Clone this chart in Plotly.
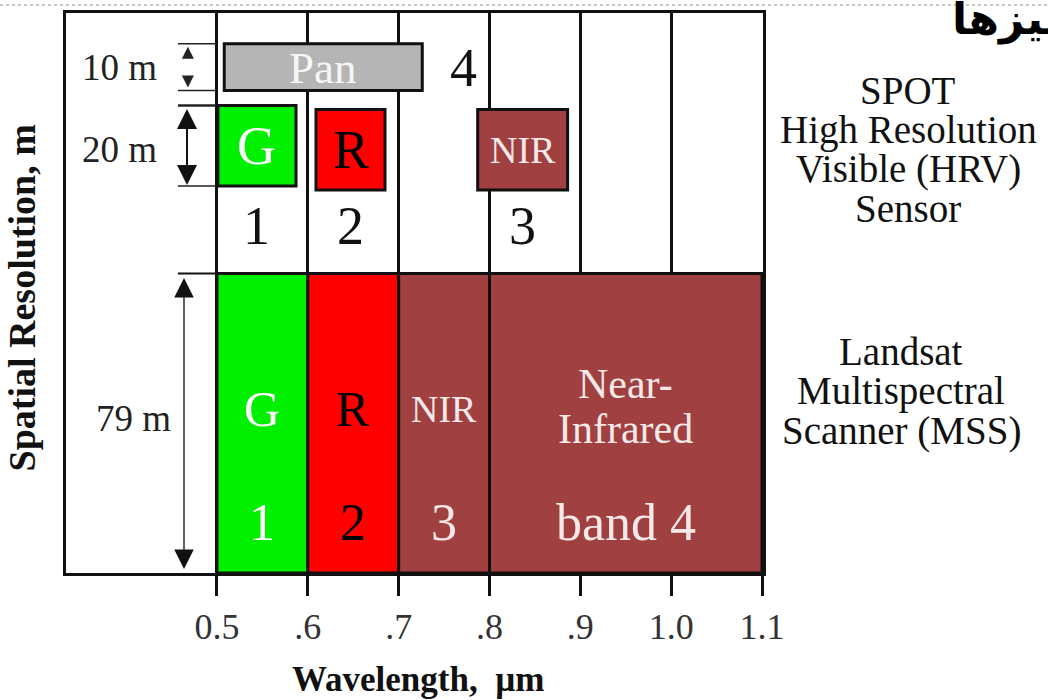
import plotly.graph_objects as go

# ---------------- data ----------------
tick_vals = [0.5, 0.6, 0.7, 0.8, 0.9, 1.0, 1.1]
tick_text = ["0.5", ".6", ".7", ".8", ".9", "1.0", "1.1"]

# SPOT HRV multispectral bands (wavelength, um)
spot_names = ["G", "R", "NIR"]
spot_numbers = ["1", "2", "3"]
spot_start = [0.501, 0.609, 0.787]
spot_end = [0.587, 0.685, 0.886]
spot_colors = ["#00f000", "#ff0000", "#a04040"]
spot_text_colors = ["#ffffff", "#000000", "#f4e8e8"]
spot_res_m = 20

# SPOT panchromatic band
pan_name = "Pan"
pan_number = "4"
pan_start = 0.508
pan_end = 0.726
pan_res_m = 10

# Landsat MSS bands
mss_names = ["G", "R", "NIR", "Near-|Infrared"]
mss_numbers = ["1", "2", "3", "band 4"]
mss_start = [0.5, 0.6, 0.7, 0.8]
mss_end = [0.6, 0.7, 0.8, 1.1]
mss_colors = ["#00f000", "#ff0000", "#a04040", "#a04040"]
mss_text_colors = ["#ffffff", "#000000", "#f4e8e8", "#f4e8e8"]
mss_res_m = 79

spot_title = ["SPOT", "High Resolution", "Visible (HRV)", "Sensor"]
mss_title = ["Landsat", "Multispectral", "Scanner (MSS)"]

# ---------------- layout rows (diagram y, top-down) ----------------
ROW = dict(pan=(41, 88), spot_g=(103, 184), spot=(107, 188), spot_num=224,
           mss=(272, 573), mss_label=408, mss_num=522)
SERIF = "Liberation Serif"

fig = go.Figure()
fig.add_trace(go.Scatter(x=[tick_vals[0], tick_vals[-1]], y=[ROW["mss"][1], ROW["pan"][0]],
                         mode="markers", marker=dict(opacity=0), hoverinfo="skip", showlegend=False))

shapes = []
ann = []

def txt(x, y, text, size, color="#111", **kw):
    d = dict(x=x, y=y, text=text, showarrow=False, xanchor="center", yanchor="middle",
             font=dict(family=kw.pop("family", SERIF), size=size, color=color))
    d.update(kw)
    ann.append(d)

# Pan band
shapes.append(dict(type="rect", xref="x", yref="y", x0=pan_start, x1=pan_end,
                   y0=ROW["pan"][0], y1=ROW["pan"][1], fillcolor="#b5b5b5",
                   line=dict(color="#111", width=3)))
txt((pan_start + pan_end) / 2, sum(ROW["pan"]) / 2 + 1, pan_name, 45, "#f6f6f6")
txt(pan_end + 0.028, sum(ROW["pan"]) / 2 + 1, pan_number, 54, "#111", xanchor="left")

# SPOT multispectral bands
for i, name in enumerate(spot_names):
    y0, y1 = ROW["spot_g"] if i == 0 else ROW["spot"]
    shapes.append(dict(type="rect", xref="x", yref="y", x0=spot_start[i], x1=spot_end[i],
                       y0=y0, y1=y1, fillcolor=spot_colors[i], line=dict(color="#111", width=3)))
    size = 54 if len(name) == 1 else 38
    txt((spot_start[i] + spot_end[i]) / 2, (y0 + y1) / 2, name, size, spot_text_colors[i])
    txt((spot_start[i] + spot_end[i]) / 2, ROW["spot_num"], spot_numbers[i], 54, "#111")

# Landsat MSS bands
for i, name in enumerate(mss_names):
    cx = (mss_start[i] + mss_end[i]) / 2
    shapes.append(dict(type="rect", xref="x", yref="y", x0=mss_start[i], x1=mss_end[i],
                       y0=ROW["mss"][0], y1=ROW["mss"][1], fillcolor=mss_colors[i],
                       line=dict(color="#111", width=3)))
    parts = name.split("|")
    if len(parts) == 2:
        txt(cx, 383, parts[0], 42, mss_text_colors[i])
        txt(cx, 428, parts[1], 42, mss_text_colors[i])
    elif len(name) == 1:
        txt(cx, ROW["mss_label"], name, 50, mss_text_colors[i])
    else:
        txt(cx, ROW["mss_label"], name, 38, mss_text_colors[i])
    txt(cx, ROW["mss_num"], mss_numbers[i], 52, mss_text_colors[i])

# horizontal separator above Landsat
shapes.append(dict(type="line", xref="x", yref="y", x0=0.457, x1=0.5, y0=ROW["mss"][0], y1=ROW["mss"][0],
                   line=dict(color="#111", width=2)))
# bracket lines for 10 m and 20 m
for yy, w in [(ROW["pan"][0], 1.5), (ROW["pan"][1], 1.5), (ROW["spot_g"][0], 2.5), (ROW["spot_g"][1], 1.5)]:
    shapes.append(dict(type="line", xref="x", yref="y", x0=0.457, x1=0.499, y0=yy, y1=yy,
                       line=dict(color="#222", width=w)))

# resolution labels
txt(0.3932, sum(ROW["pan"]) / 2, f"{pan_res_m} m", 37, "#222")
txt(0.3932, sum(ROW["spot_g"]) / 2 + 4, f"{spot_res_m} m", 37, "#222")
txt(0.4076, 418, f"{mss_res_m} m", 37, "#222")

# arrows
ax_x = 0.468
for head, tail in [(ROW["pan"][0] + 3, ROW["pan"][0] + 16), (ROW["pan"][1] - 3, ROW["pan"][1] - 16)]:
    ann.append(dict(x=ax_x, y=head, ax=ax_x, ay=tail, xref="x", yref="y", axref="x", ayref="y",
                    text="", showarrow=True, arrowhead=2, arrowsize=1.6, arrowwidth=1.5,
                    arrowcolor="#222"))
ann.append(dict(x=0.467, y=ROW["spot_g"][1] - 1, ax=0.467, ay=ROW["spot_g"][0] + 2, xref="x", yref="y",
                axref="x", ayref="y", text="", showarrow=True, arrowhead=2, arrowside="end+start",
                arrowsize=2.0, arrowwidth=2, arrowcolor="#111"))
ann.append(dict(x=0.4637, y=ROW["mss"][1] - 4, ax=0.4637, ay=ROW["mss"][0] + 3, xref="x", yref="y",
                axref="x", ayref="y", text="", showarrow=True, arrowhead=2, arrowside="end+start",
                arrowsize=3.0, arrowwidth=1.3, arrowcolor="#111"))

# right-side sensor labels (one annotation per line)
for k, line in enumerate(spot_title):
    txt((908 - 66) / 697, 88 + 39.5 * k, line, 39, "#111", xref="paper")
for k, line in enumerate(mss_title):
    txt((901 - 66) / 697, 350 + 40 * k, line, 39, "#111", xref="paper")

# axis titles
txt((418 - 66) / 697, (573 - 680) / 563, "<b>Wavelength,&nbsp;&nbsp;µm</b>", 35, "#111",
    xref="paper", yref="paper")
txt((22 - 66) / 697, (573 - 297) / 563, "<b>Spatial Resolution, m</b>", 38, "#111",
    xref="paper", yref="paper", textangle=-90)

# clipped Persian heading at top right
txt((950 - 66) / 697, (573 + 12) / 563, "<b>تمیزها</b>", 44, "#000", family="DejaVu Sans",
    xref="paper", yref="paper", xanchor="left", yanchor="top")
# dotted slide border at top
shapes.append(dict(type="line", xref="paper", yref="paper", x0=-66 / 697, x1=(1048 - 66) / 697,
                   y0=(573 - 2) / 563, y1=(573 - 2) / 563, line=dict(color="#c8c8c0", width=2, dash="dot")))

fig.update_layout(
    width=1048, height=700,
    margin=dict(l=66, r=285, t=10, b=127),
    paper_bgcolor="white", plot_bgcolor="white",
    shapes=shapes, annotations=ann, showlegend=False,
    xaxis=dict(range=[0.3338, 1.1011], tickvals=tick_vals, ticktext=tick_text,
               showgrid=True, gridcolor="#111", gridwidth=3, zeroline=False,
               showline=True, linecolor="#111", linewidth=3, mirror=True,
               ticks="outside", ticklen=20, tickwidth=3, tickcolor="#111",
               ticklabelstandoff=0,
               tickfont=dict(family=SERIF, size=36, color="#333"), fixedrange=True),
    yaxis=dict(range=[573, 10], showgrid=False, zeroline=False, showticklabels=False,
               showline=True, linecolor="#111", linewidth=3, mirror=True, ticks="",
               fixedrange=True),
)

fig.write_html("out.html", config={"displayModeBar": False},
               post_script="document.body.style.margin='0px';document.body.style.overflow='hidden';")
